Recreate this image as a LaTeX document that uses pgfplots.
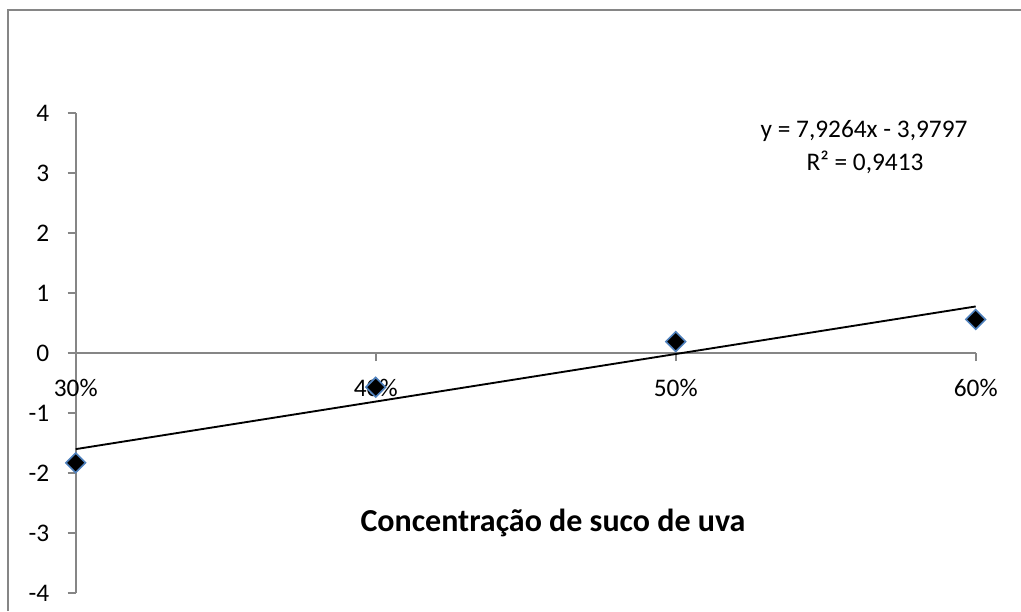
\documentclass[border=0pt]{standalone}
\usepackage{fontspec}
\setmainfont{Carlito}
\usepackage{pgfplots}
\pgfplotsset{compat=1.18}

\definecolor{axisgray}{HTML}{868686}
\definecolor{markedge}{HTML}{4F81BD}

% measured data: concentration vs response
\pgfplotstableread{
x     y
0.3  -1.83
0.4  -0.57
0.5   0.19
0.6   0.56
}\dados

\begin{document}
\fontsize{9.5}{11.5}\selectfont
\begin{tikzpicture}
  % drawing grid: 1 unit = 0.375pt, y pointing down
  \begin{scope}[x=0.375pt, y=-0.375pt]
    \useasboundingbox (0,0) rectangle (1021,611);
    \draw[axisgray, line width=0.9pt] (8,611) -- (8,10) -- (1021,10);
  \end{scope}

  \begin{axis}[
    at={(28.39pt,-222.375pt)}, anchor=south west,
    scale only axis, width=337.5pt, height=180pt,
    xmin=0.3, xmax=0.6, ymin=-4, ymax=4,
    clip=false,
    axis x line=middle, axis y line=left,
    axis line style={draw=axisgray, line width=0.75pt, -},
    hide obscured x ticks=false,
    tick align=outside, major tick length=3pt,
    tick style={axisgray, line width=0.75pt},
    xtick={0.3,0.4,0.5,0.6},
    xticklabels={30\%,40\%,50\%,60\%},
    ytick={-4,-3,-2,-1,0,1,2,3,4},
    yticklabels={-4,-3,-2,-1,0,1,2,3,4},
    xticklabel style={anchor=base, inner sep=0pt, yshift=-13.4pt},
    yticklabel style={anchor=east, inner sep=0pt, xshift=-6.75pt},
  ]
    % linear trend line y = 7.9264x - 3.9797
    \addplot[black, line width=0.7pt] coordinates {(0.3,-1.60178) (0.6,0.77614)};
    \addplot[only marks, mark=square*, mark size=2.6pt,
      mark options={rotate=45, fill=black, draw=markedge, line width=0.6pt}]
      table[x=x, y=y] {\dados};
  \end{axis}

  \begin{scope}[x=0.375pt, y=-0.375pt]
    \node[anchor=base, inner sep=0pt] at (864,137.7) {y = 7,9264x - 3,9797};
    \node[anchor=base, inner sep=0pt] at (865,170.7) {R² = 0,9413};
    \node[anchor=base, inner sep=0pt, font=\fontsize{12}{14}\selectfont\bfseries]
      at (553,531) {Concentração de suco de uva};
  \end{scope}
\end{tikzpicture}
\end{document}
